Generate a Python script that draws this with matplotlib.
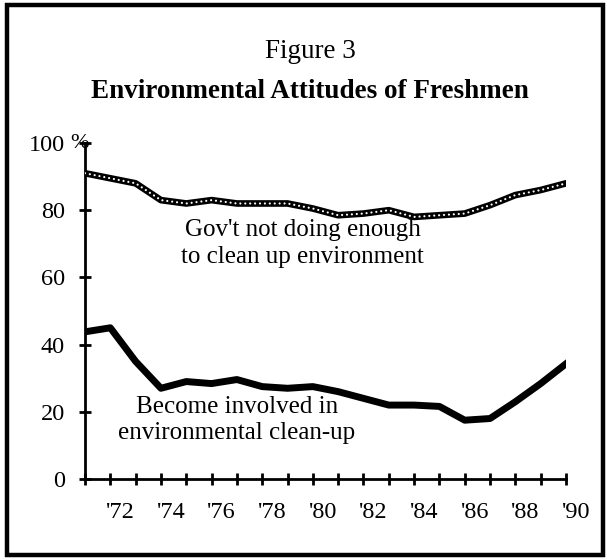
import numpy as np
import matplotlib
matplotlib.use("Agg")
import matplotlib.pyplot as plt
from matplotlib.patches import Rectangle
from matplotlib.transforms import ScaledTranslation

plt.rcParams['font.family'] = ['Liberation Serif', 'DejaVu Serif']

years = list(range(1971, 1991))
govt_not_enough = [91, 89.5, 88, 83, 82, 83, 82, 82, 82, 80.5,
                   78.5, 79, 80, 78, 78.5, 79, 81.5, 84.5, 86, 88]
become_involved = [43.8, 45, 35, 27, 29, 28.4, 29.6, 27.5, 27, 27.5,
                   26, 24, 22, 22, 21.6, 17.5, 18, 23, 28.4, 34.3]
x_labels = ["'72", "'74", "'76", "'78", "'80", "'82", "'84", "'86", "'88", "'90"]
y_ticks = [0, 20, 40, 60, 80, 100]

fig = plt.figure(figsize=(6.07, 5.6), dpi=100)
fig.patches.append(Rectangle((7 / 607, 5 / 560), 596 / 607, 550 / 560,
                             transform=fig.transFigure, fill=False,
                             edgecolor='black', linewidth=3.2))

ax = fig.add_axes([85 / 607, 1 - 479 / 560, (566 - 85) / 607, (479 - 143) / 560])

# beaded line for the top series: black band with white dots
ax.plot(years, govt_not_enough, color='black', lw=4.8, solid_capstyle='round', zorder=3)
ax.plot(years, govt_not_enough, color='white', lw=1.6,
        linestyle=(0, (0.01, 2.2)), dash_capstyle='round', zorder=4)
ax.plot(years, become_involved, color='black', lw=5.0,
        solid_joinstyle='round', zorder=3)

ax.set_xlim(1971, 1990)
ax.set_ylim(0, 100)
for s in ['top', 'right']:
    ax.spines[s].set_visible(False)
for s in ['left', 'bottom']:
    ax.spines[s].set_linewidth(2.0)

ax.set_xticks(years)
ax.set_xticklabels([''] * len(years))
ax.tick_params(axis='x', direction='inout', length=9, width=2.0)
off = ScaledTranslation(10 / 100, 0, fig.dpi_scale_trans)
for i, lab in enumerate(x_labels):
    yr = 1972 + 2 * i
    ax.text(yr, -0.1, lab, transform=ax.get_xaxis_transform() + off,
            ha='center', va='center', fontsize=17.5)

ax.set_yticks(y_ticks)
ax.set_yticklabels(['0', '20', '40', '60', '80', '100'], fontsize=17.5)
ax.tick_params(axis='y', direction='inout', length=9, width=2.0, pad=10)
ax.text(1970.8, 100, '%', ha='center', va='center', fontsize=16)

ax.text(1979.6, 74.1, "Gov't not doing enough", ha='center', va='center', fontsize=18)
ax.text(1979.6, 66.1, "to clean up environment", ha='center', va='center', fontsize=18)
ax.text(1977.0, 21.4, "Become involved in", ha='center', va='center', fontsize=18)
ax.text(1977.0, 13.7, "environmental clean-up", ha='center', va='center', fontsize=18)

fig.text(310 / 607, 1 - 51 / 560, 'Figure 3', ha='center', va='center', fontsize=19.5)
fig.text(310 / 607, 1 - 92 / 560, 'Environmental Attitudes of Freshmen',
         ha='center', va='center', fontsize=19.5, fontweight='bold')

fig.savefig('out.png', dpi=100, facecolor='white')
